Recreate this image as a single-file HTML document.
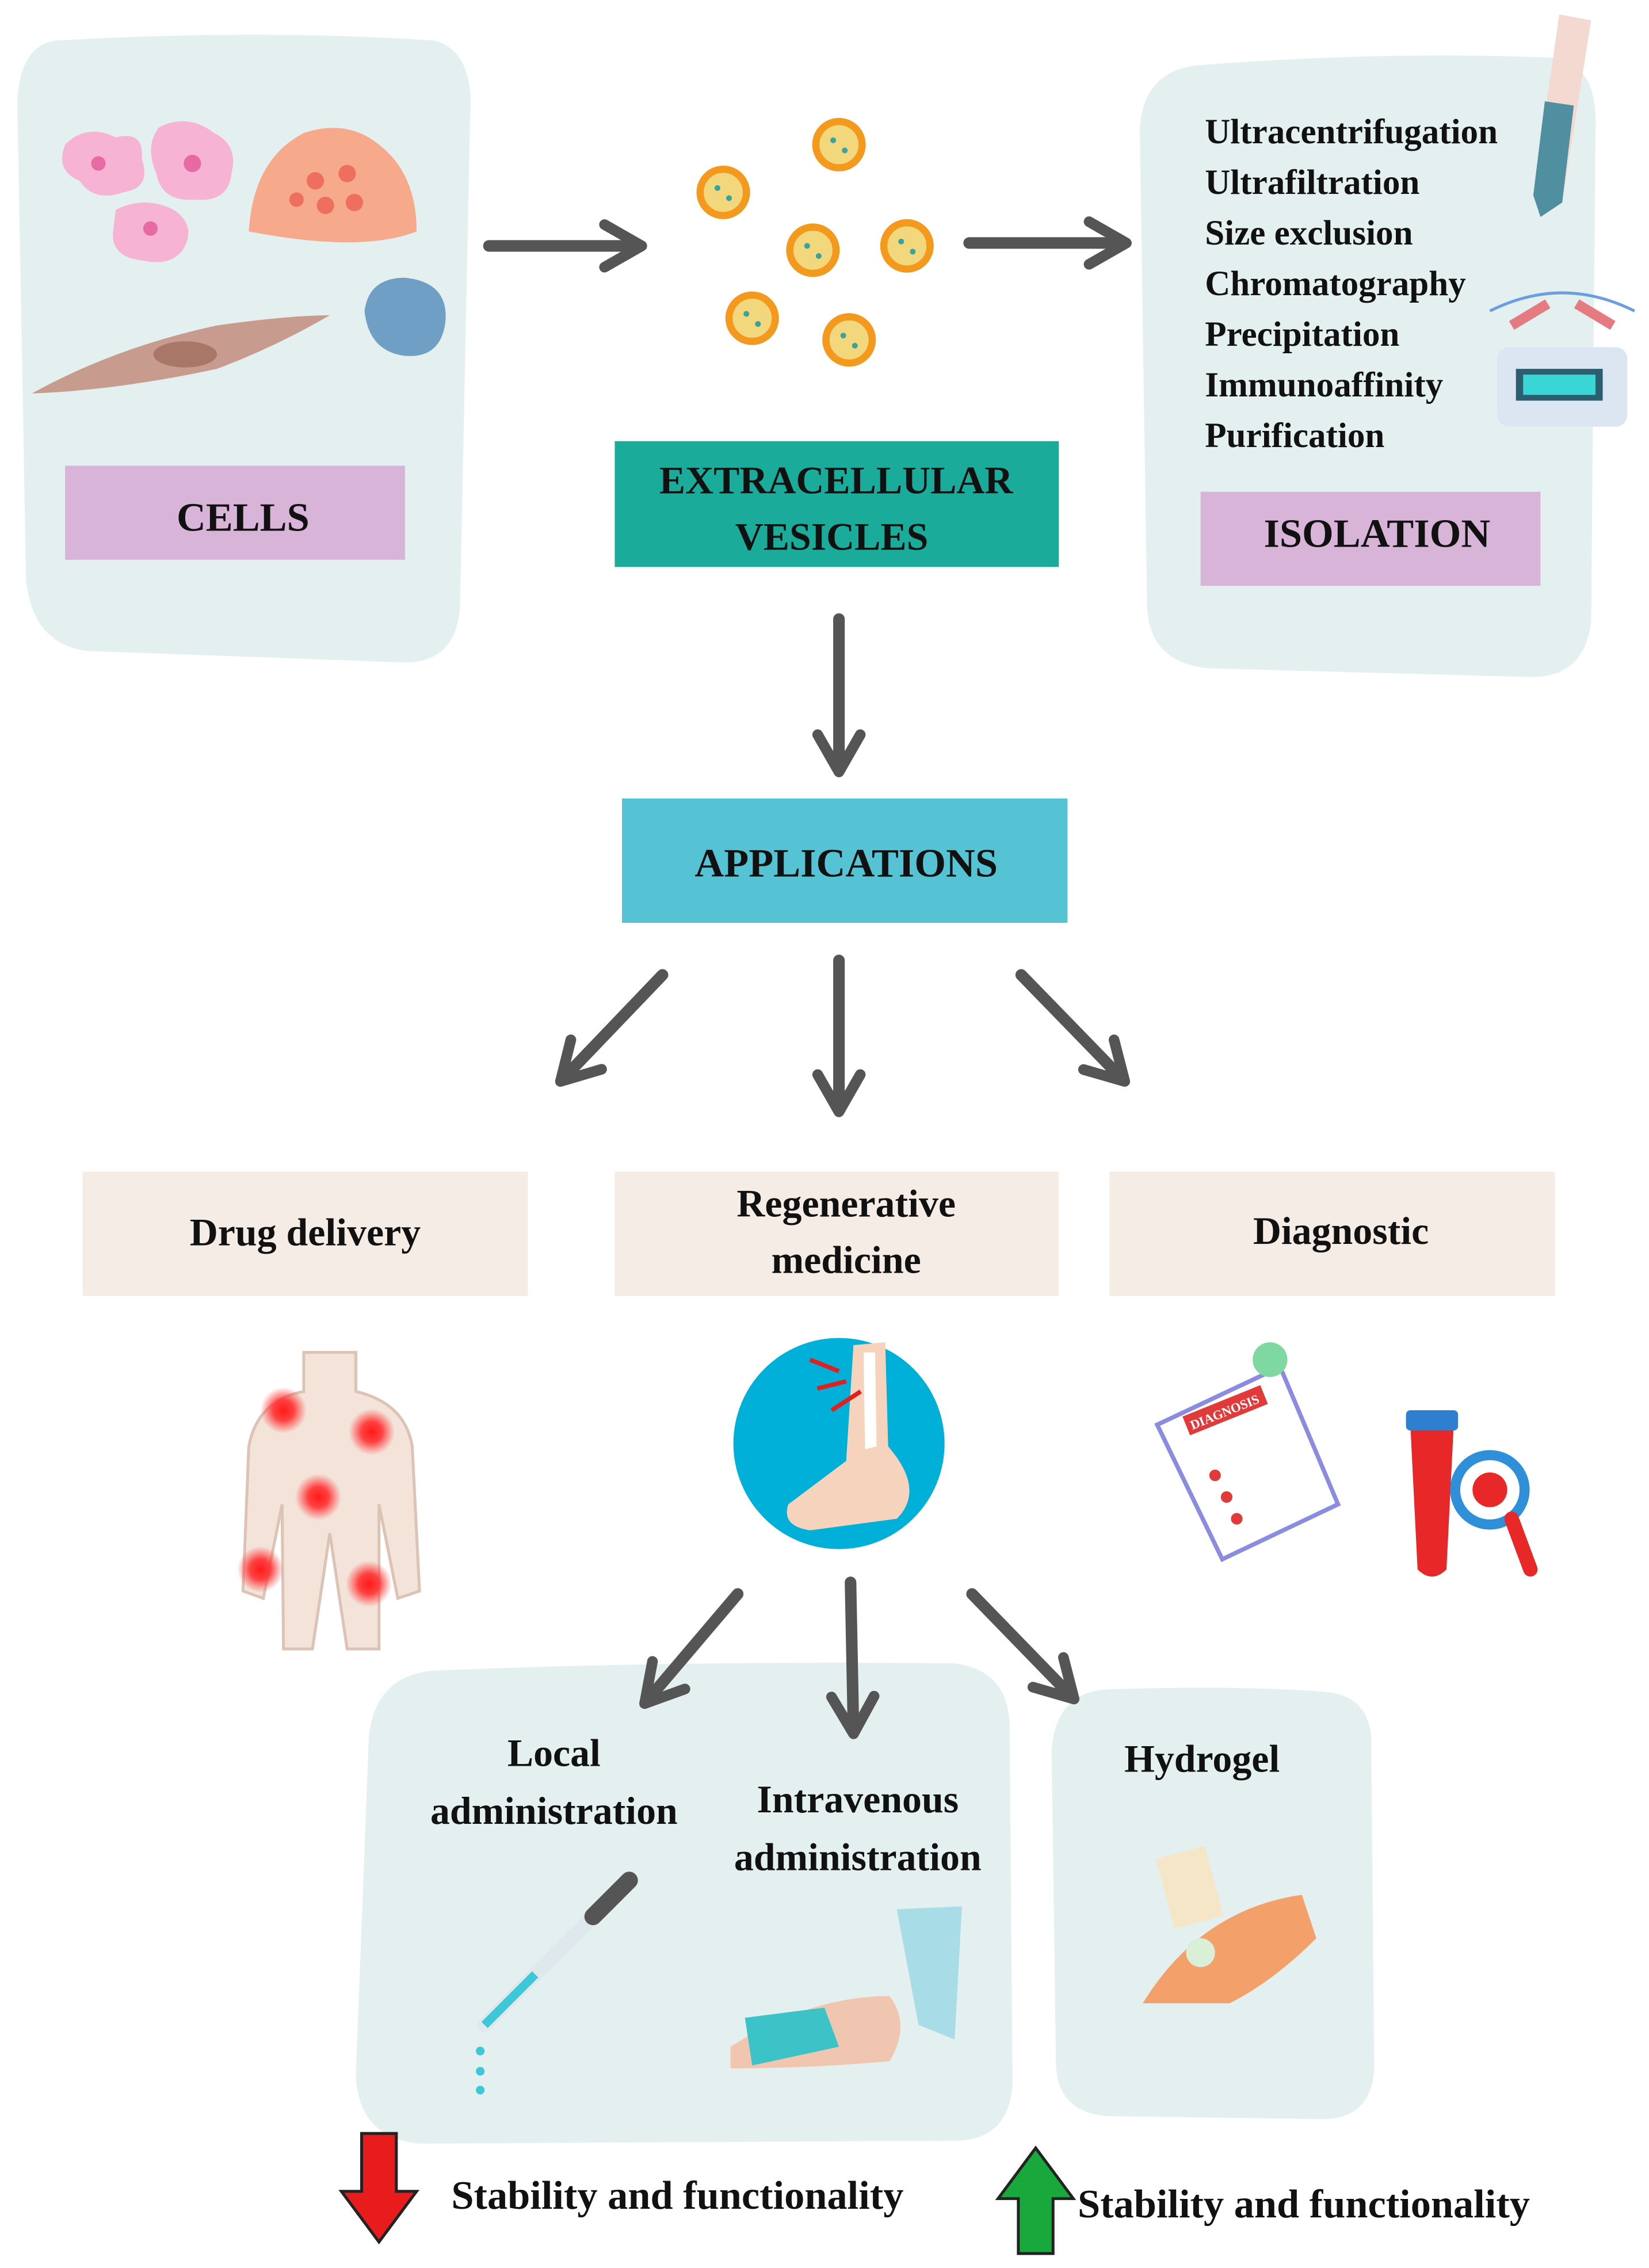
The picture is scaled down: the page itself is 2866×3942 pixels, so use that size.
<!DOCTYPE html>
<html><head><meta charset="utf-8">
<style>
html,body{margin:0;padding:0;background:#fff;}
svg{display:block;}
text{font-family:"Liberation Serif",serif;font-weight:bold;fill:#111;}
</style></head>
<body>
<svg width="2866" height="3942" viewBox="0 0 1140 1568" xmlns="http://www.w3.org/2000/svg">
<defs>
<marker id="ah" viewBox="0 0 10 10" refX="7" refY="5" markerWidth="4.6" markerHeight="4.6" orient="auto">
<path d="M1,1 L8,5 L1,9" fill="none" stroke="#555" stroke-width="2" stroke-linecap="round" stroke-linejoin="round"/>
</marker>
<radialGradient id="rd"><stop offset="0" stop-color="#ff1a1a"/><stop offset="0.45" stop-color="#ff3030" stop-opacity="0.9"/><stop offset="1" stop-color="#ff4040" stop-opacity="0"/></radialGradient>
</defs>
<rect width="1140" height="1568" fill="#fff"/>

<path d="M40,28 Q180,20 300,28 Q328,35 325,80 L318,420 Q315,458 280,458 L60,450 Q22,445 18,400 L12,70 Q14,30 40,28Z" fill="#e3f0ef"/>
<path d="M830,45 Q960,35 1075,40 Q1105,45 1103,90 L1100,430 Q1095,470 1055,468 L835,462 Q795,458 793,420 L788,90 Q790,48 830,45Z" fill="#e3f0ef"/>
<path d="M300,1155 Q470,1148 660,1150 Q700,1155 698,1200 L700,1440 Q698,1482 655,1480 L290,1482 Q248,1478 246,1435 L255,1200 Q260,1158 300,1155Z" fill="#e3f0ef"/>
<path d="M765,1168 Q860,1165 920,1170 Q950,1175 948,1210 L950,1430 Q948,1466 912,1465 L765,1463 Q730,1460 730,1425 L727,1210 Q730,1170 765,1168Z" fill="#e3f0ef"/>

<path d="M45,100 Q60,85 80,95 Q100,90 98,110 Q105,130 85,133 Q65,140 55,125 Q38,118 45,100Z" fill="#f6b3d3"/>
<circle cx="68" cy="113" r="5" fill="#e86aa5"/>
<path d="M110,88 Q130,78 148,92 Q165,100 160,120 Q158,140 135,138 Q112,140 108,120 Q100,100 110,88Z" fill="#f6b3d3"/>
<circle cx="133" cy="113" r="6" fill="#e86aa5"/>
<path d="M80,145 Q100,135 120,145 Q135,155 128,170 Q120,185 98,180 Q78,178 78,162Z" fill="#f6b3d3"/>
<circle cx="104" cy="158" r="5" fill="#e86aa5"/>
<path d="M172,160 Q175,110 210,92 Q240,82 262,100 Q288,120 288,160 Q250,175 172,160Z" fill="#f7a98c"/>
<g fill="#ef6f5f"><circle cx="218" cy="125" r="6"/><circle cx="240" cy="120" r="6"/><circle cx="225" cy="142" r="6"/><circle cx="245" cy="140" r="6"/><circle cx="205" cy="138" r="5"/></g>
<path d="M22,272 Q80,240 150,225 Q200,218 228,218 Q190,240 150,255 Q80,270 22,272Z" fill="#c79c8e"/>
<ellipse cx="128" cy="245" rx="22" ry="9" fill="#a97767"/>
<path d="M252,215 Q255,192 280,192 Q310,195 308,222 Q305,248 280,246 Q255,243 252,215Z" fill="#6f9fc4"/>

<rect x="45" y="322" width="235" height="65" fill="#d8b4d8"/>
<text x="168" y="367" font-size="28" text-anchor="middle">CELLS</text>

<g stroke="#f39a1e" stroke-width="5" fill="#f3d77c">
<circle cx="580" cy="100" r="16"/><circle cx="500" cy="133" r="16"/><circle cx="562" cy="173" r="16"/>
<circle cx="627" cy="170" r="16"/><circle cx="520" cy="220" r="16"/><circle cx="587" cy="235" r="16"/>
</g>
<g fill="#3aa3a0"><circle cx="576" cy="97" r="2"/><circle cx="584" cy="104" r="2"/><circle cx="496" cy="130" r="2"/><circle cx="504" cy="137" r="2"/><circle cx="558" cy="170" r="2"/><circle cx="566" cy="177" r="2"/><circle cx="623" cy="167" r="2"/><circle cx="631" cy="174" r="2"/><circle cx="516" cy="217" r="2"/><circle cx="524" cy="224" r="2"/><circle cx="583" cy="232" r="2"/><circle cx="591" cy="239" r="2"/></g>

<rect x="425" y="305" width="307" height="87" fill="#1aab9b"/>
<text x="578" y="341" font-size="27" text-anchor="middle">EXTRACELLULAR</text>
<text x="575" y="380" font-size="27" text-anchor="middle">VESICLES</text>

<g font-size="24.3">
<text x="833" y="99">Ultracentrifugation</text>
<text x="833" y="134">Ultrafiltration</text>
<text x="833" y="169">Size exclusion</text>
<text x="833" y="204">Chromatography</text>
<text x="833" y="239">Precipitation</text>
<text x="833" y="274">Immunoaffinity</text>
<text x="833" y="309">Purification</text>
</g>
<rect x="830" y="340" width="235" height="65" fill="#d8b4d8"/>
<text x="952" y="378" font-size="28" text-anchor="middle">ISOLATION</text>
<path d="M1078,10 L1100,14 L1080,140 L1065,150 L1060,135Z" fill="#f3d9cf"/>
<path d="M1068,70 L1088,73 L1080,140 L1065,150 L1060,135Z" fill="#4f8fa0"/>
<rect x="1035" y="240" width="90" height="55" rx="8" fill="#dbe6f2"/>
<rect x="1048" y="255" width="60" height="22" fill="#2b5f6f"/>
<rect x="1053" y="259" width="50" height="14" fill="#3ad6d6"/>
<path d="M1045,225 L1070,210 M1115,225 L1090,210" stroke="#e57a80" stroke-width="7"/>
<path d="M1030,215 Q1080,190 1130,215" fill="none" stroke="#6b9ee0" stroke-width="2"/>

<rect x="430" y="552" width="308" height="86" fill="#55c3d3"/>
<text x="585" y="606" font-size="28" text-anchor="middle">APPLICATIONS</text>

<g stroke="#555" stroke-width="8" stroke-linecap="round" fill="none" marker-end="url(#ah)">
<line x1="338" y1="170" x2="440" y2="170"/>
<line x1="670" y1="168" x2="775" y2="168"/>
<line x1="580" y1="428" x2="580" y2="530"/>
<line x1="458" y1="674" x2="390" y2="745"/>
<line x1="580" y1="664" x2="580" y2="765"/>
<line x1="706" y1="674" x2="775" y2="745"/>
<line x1="510" y1="1102" x2="448" y2="1175"/>
<line x1="588" y1="1094" x2="590" y2="1195"/>
<line x1="672" y1="1102" x2="740" y2="1172"/>
</g>

<g fill="#f6ece6">
<rect x="57" y="810" width="308" height="86"/>
<rect x="425" y="810" width="307" height="86"/>
<rect x="767" y="810" width="308" height="86"/>
</g>
<text x="211" y="861" font-size="27" text-anchor="middle">Drug delivery</text>
<text x="585" y="841" font-size="27" text-anchor="middle">Regenerative</text>
<text x="585" y="880" font-size="27" text-anchor="middle">medicine</text>
<text x="927" y="860" font-size="27" text-anchor="middle">Diagnostic</text>

<path d="M210,935 L246,935 L246,962 Q280,970 285,1000 L290,1100 L275,1105 L262,1040 L262,1140 L240,1140 L228,1060 L216,1140 L196,1140 L195,1040 L182,1105 L168,1100 L172,1000 Q178,968 210,962Z" fill="#f3e3d8" stroke="#dcc3b5" stroke-width="2"/>
<g fill="url(#rd)"><circle cx="196" cy="975" r="16"/><circle cx="257" cy="990" r="16"/><circle cx="220" cy="1035" r="16"/><circle cx="180" cy="1085" r="16"/><circle cx="255" cy="1095" r="16"/></g>

<circle cx="580" cy="998" r="73" fill="#00b0d8"/>
<path d="M590,930 L612,928 L614,1000 Q640,1030 620,1050 L560,1058 Q540,1055 545,1040 L585,1010Z" fill="#f6d3bc"/>
<path d="M597,935 L605,935 L606,1000 L598,1002Z" fill="#fff"/>
<path d="M560,940 L580,948 M565,960 L585,955 M575,975 L595,962" stroke="#e02020" stroke-width="3"/>

<path d="M800,985 L885,945 L925,1040 L845,1078Z" fill="#fff" stroke="#8b8be0" stroke-width="3"/>
<rect x="818" y="968" width="58" height="14" fill="#e03a3a" transform="rotate(-22 847 975)"/>
<text x="821" y="979" font-size="9" style="fill:#fff" transform="rotate(-22 847 975)">DIAGNOSIS</text>
<g fill="#e03a3a"><circle cx="840" cy="1020" r="4"/><circle cx="848" cy="1035" r="4"/><circle cx="855" cy="1050" r="4"/></g>
<circle cx="878" cy="940" r="12" fill="#7fd8a0"/>
<path d="M975,985 L1005,985 L1000,1085 Q990,1095 980,1085Z" fill="#e82828"/>
<rect x="972" y="975" width="36" height="14" rx="3" fill="#2f7fd0"/>
<circle cx="1030" cy="1030" r="24" fill="#fff" stroke="#2f8fd8" stroke-width="7"/>
<circle cx="1030" cy="1030" r="12" fill="#e82828"/>
<line x1="1045" y1="1050" x2="1058" y2="1085" stroke="#e82828" stroke-width="10" stroke-linecap="round"/>

<text x="383" y="1221" font-size="27" text-anchor="middle">Local</text>
<text x="383" y="1261" font-size="27" text-anchor="middle">administration</text>
<text x="593" y="1253" font-size="27" text-anchor="middle">Intravenous</text>
<text x="593" y="1293" font-size="27" text-anchor="middle">administration</text>
<text x="831" y="1225" font-size="27" text-anchor="middle">Hydrogel</text>

<line x1="335" y1="1400" x2="425" y2="1310" stroke="#dfe8ec" stroke-width="10" stroke-linecap="round"/>
<line x1="410" y1="1325" x2="435" y2="1300" stroke="#555" stroke-width="12" stroke-linecap="round"/>
<line x1="335" y1="1400" x2="370" y2="1365" stroke="#3cc8d8" stroke-width="6"/>
<g fill="#3cc8d8"><circle cx="332" cy="1418" r="3"/><circle cx="332" cy="1432" r="3"/><circle cx="332" cy="1445" r="3"/></g>
<path d="M620,1320 L665,1318 L660,1410 L635,1400Z" fill="#a8dde8"/>
<path d="M505,1415 Q560,1380 615,1380 Q630,1400 615,1425 Q560,1430 505,1430Z" fill="#f1c6b0"/>
<path d="M515,1395 L570,1388 L580,1415 L520,1428Z" fill="#3cc3c8"/>
<path d="M790,1385 Q830,1320 900,1310 L910,1340 Q880,1370 850,1385Z" fill="#f3a06a"/>
<rect x="805" y="1280" width="35" height="50" fill="#f5e6c8" transform="rotate(-15 822 1305)"/>
<circle cx="830" cy="1350" r="10" fill="#d9efd8"/>

<path d="M250,1475 L274,1475 L274,1515 L288,1515 L262,1550 L236,1515 L250,1515Z" fill="#e81c1c" stroke="#222" stroke-width="2"/>
<text x="312" y="1527" font-size="28">Stability and functionality</text>
<path d="M704,1558 L728,1558 L728,1520 L742,1520 L716,1485 L690,1520 L704,1520Z" fill="#18a83c" stroke="#222" stroke-width="2"/>
<text x="745" y="1533" font-size="28">Stability and functionality</text>
</svg>
</body></html>
